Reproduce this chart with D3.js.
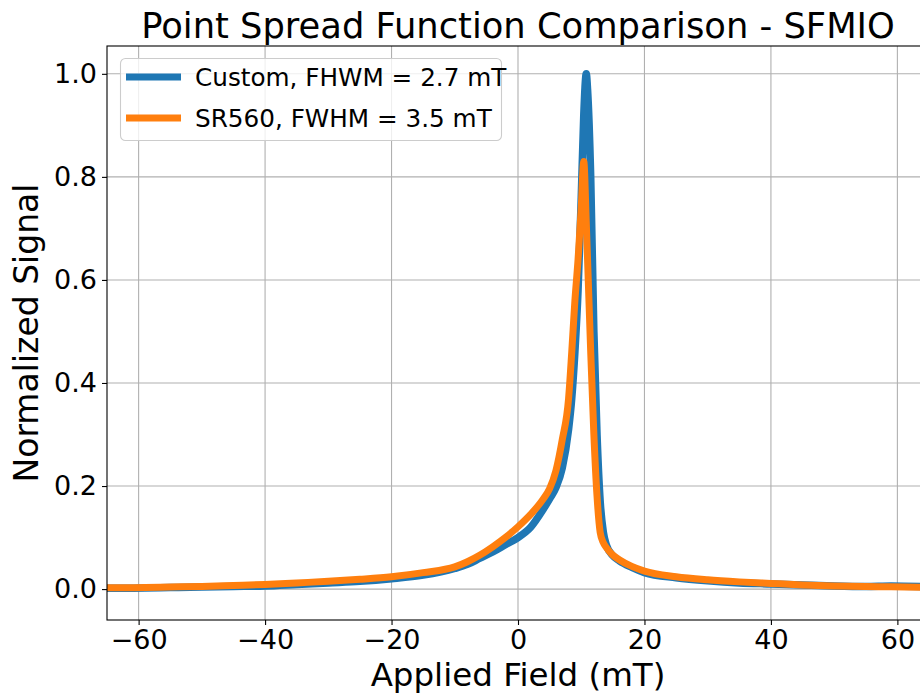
<!DOCTYPE html>
<html><head><meta charset="utf-8">
<script src="https://cdn.jsdelivr.net/npm/d3@7"></script>
<style>html,body{margin:0;padding:0;background:#fff;overflow:hidden}svg{display:block}text{font-family:"DejaVu Sans",sans-serif}</style>
</head><body>
<script>
const field = [-66,-59,-55,-50,-45,-40,-35,-30,-25,-20,-15,-10,-8,-6,-4,-2,0,2,4,5,6,7,8,8.5,9,9.5,10,10.4,10.8,11,11.5,12,12.5,13,13.5,14,15,16,18,20,25,30,35,40,45,50,55,59,66];
const customSignal = [0.0015,0.002,0.003,0.004,0.005,0.006,0.009,0.012,0.015,0.02,0.027,0.04,0.048,0.06,0.072,0.086,0.10,0.12,0.155,0.175,0.197,0.235,0.31,0.37,0.46,0.58,0.76,0.92,1.0,0.97,0.8,0.5,0.3,0.17,0.11,0.085,0.065,0.055,0.042,0.032,0.022,0.016,0.012,0.010,0.008,0.006,0.005,0.006,0.004];
const sr560Signal = [0.0025,0.003,0.004,0.005,0.007,0.009,0.012,0.015,0.019,0.024,0.032,0.043,0.053,0.066,0.082,0.1,0.121,0.145,0.175,0.195,0.23,0.29,0.37,0.46,0.56,0.64,0.74,0.83,0.71,0.64,0.46,0.30,0.18,0.11,0.09,0.08,0.066,0.057,0.044,0.035,0.024,0.018,0.014,0.011,0.008,0.006,0.005,0.0045,0.003];
const seriesNames = ["Custom, FHWM = 2.7 mT","SR560, FWHM = 3.5 mT"];
const seriesColors = ["#1f77b4","#ff7f0e"];
const xTicks = [-60,-40,-20,0,20,40,60];
const yTicks = [0.0,0.2,0.4,0.6,0.8,1.0];
const titleText = "Point Spread Function Comparison - SFMIO";
const xLabel = "Applied Field (mT)";
const yLabel = "Normalized Signal";

const W = 920, H = 695;
const m = {left:107, top:46, right:929, bottom:620};
const svg = d3.select("body").append("svg").attr("width",W).attr("height",H);
const x = d3.scaleLinear().domain([-65,65]).range([m.left,m.right]);
const y = d3.scaleLinear().domain([-0.06,1.054]).range([m.bottom,m.top]);

svg.append("defs").append("clipPath").attr("id","clip")
  .append("rect").attr("x",m.left).attr("y",m.top).attr("width",m.right-m.left).attr("height",m.bottom-m.top);

// grid
const grid = svg.append("g").attr("stroke","#b0b0b0").attr("stroke-width",1.1);
xTicks.forEach(t=>grid.append("line").attr("x1",x(t)).attr("x2",x(t)).attr("y1",m.top).attr("y2",m.bottom));
yTicks.forEach(t=>grid.append("line").attr("x1",m.left).attr("x2",m.right).attr("y1",y(t)).attr("y2",y(t)));

// lines
const data = [customSignal, sr560Signal];
const widths = [7.5, 7];
const line = d3.line().x((d,i)=>x(field[i])).y(d=>y(d)).curve(d3.curveMonotoneX);
const plot = svg.append("g").attr("clip-path","url(#clip)");
data.forEach((s,k)=>{
  plot.append("path").datum(s).attr("d",line).attr("fill","none")
    .attr("stroke",seriesColors[k]).attr("stroke-width",widths[k])
    .attr("stroke-linejoin","round").attr("stroke-linecap","round");
});

// axes
const xAxis = d3.axisBottom(x).tickValues(xTicks).tickSize(5).tickPadding(5).tickFormat(d=>d<0?"\u2212"+Math.abs(d):d);
const yAxis = d3.axisLeft(y).tickValues(yTicks).tickSize(5).tickPadding(5).tickFormat(d3.format(".1f"));
const gx = svg.append("g").attr("transform",`translate(0,${m.bottom})`).call(xAxis);
const gy = svg.append("g").attr("transform",`translate(${m.left},0)`).call(yAxis);
[gx,gy].forEach(g=>{
  g.select(".domain").remove();
  g.selectAll(".tick line").attr("stroke","#000").attr("stroke-width",1.1);
  g.selectAll(".tick text").attr("fill","#000").style("font-size","27px").style("font-family","DejaVu Sans");
});
// frame
svg.append("rect").attr("x",m.left).attr("y",m.top).attr("width",m.right-m.left).attr("height",m.bottom-m.top)
  .attr("fill","none").attr("stroke","#000").attr("stroke-width",1.1);

// title & labels
svg.append("text").attr("x",(m.left+m.right)/2).attr("y",38).attr("text-anchor","middle")
  .style("font-size","35.3px").attr("fill","#000").text(titleText);
svg.append("text").attr("x",(m.left+m.right)/2).attr("y",686).attr("text-anchor","middle")
  .style("font-size","32.5px").attr("fill","#000").text(xLabel);
svg.append("text").attr("transform",`translate(38,${(m.top+m.bottom)/2}) rotate(-90)`).attr("text-anchor","middle")
  .style("font-size","33px").attr("fill","#000").text(yLabel);

// legend
const lg = svg.append("g");
lg.append("rect").attr("x",120.5).attr("y",58.5).attr("width",381).attr("height",82).attr("rx",5)
  .attr("fill","#fff").attr("fill-opacity",0.8).attr("stroke","#cccccc").attr("stroke-width",1.1);
seriesNames.forEach((n,k)=>{
  const yy = 77 + k*41;
  lg.append("line").attr("x1",126).attr("x2",181).attr("y1",yy).attr("y2",yy)
    .attr("stroke",seriesColors[k]).attr("stroke-width",7);
  lg.append("text").attr("x",195).attr("y",yy+8.5).style("font-size","24.7px").attr("fill","#000").text(n);
});
</script>
</body></html>
